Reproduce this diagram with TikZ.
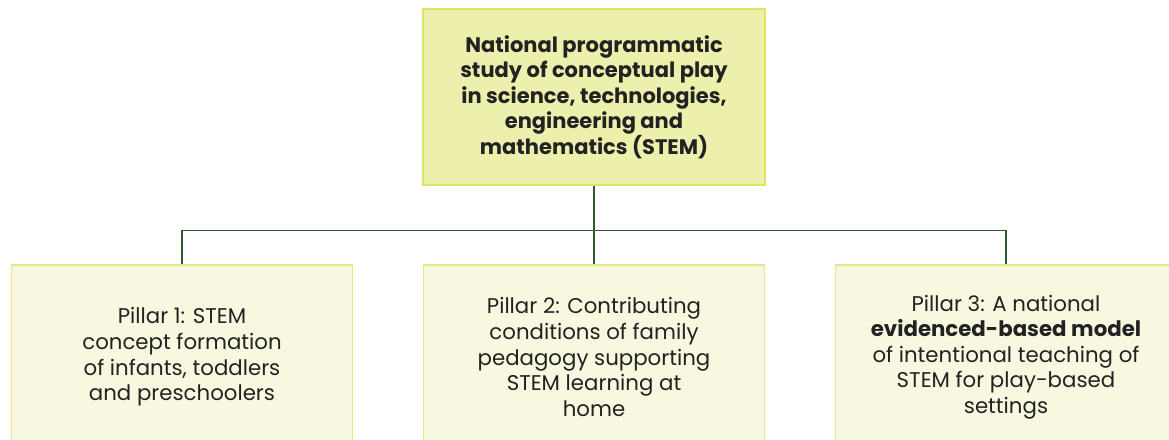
\documentclass[tikz,border=0pt]{standalone}
\usepackage{fontspec}
\setmainfont{Poppins}
\usetikzlibrary{positioning}

\definecolor{topfill}{HTML}{EDF0AD}
\definecolor{topline}{HTML}{DCE464}
\definecolor{pillfill}{HTML}{F8F8E0}
\definecolor{pillline}{HTML}{E2E882}
\definecolor{linkcol}{HTML}{2E5A2E}
\definecolor{txtcol}{HTML}{222222}

\tikzset{
  topbox/.style={draw=topline, fill=topfill, line width=1.5pt, minimum width=342pt,
    minimum height=176pt, align=center, text=txtcol,
    font=\fontsize{21}{25.6}\selectfont\bfseries},
  pillar/.style={draw=pillline, fill=pillfill, line width=1.5pt, minimum width=341pt,
    minimum height=184pt, align=center, text=txtcol,
    font=\fontsize{21.3}{25.6}\selectfont},
  link/.style={draw=linkcol, line width=1.3pt}
}

\begin{document}
\begin{tikzpicture}[x=1pt,y=-1pt]
  \useasboundingbox (0,0) rectangle (1169,439);
  \clip (0,0) rectangle (1169,439);

  \node[topbox] (study) at (594,97) {National programmatic\\study of conceptual play\\in science, technologies,\\engineering and\\mathematics (STEM)};

  \node[pillar] (p1) at (182,357) {Pillar 1: STEM\\concept formation\\of infants, toddlers\\and preschoolers};
  \node[pillar] (p2) at (594,357) {Pillar 2: Contributing\\conditions of family\\pedagogy supporting\\STEM learning at\\home};
  \node[pillar] (p3) at (1006,357) {Pillar 3: A national\\\textbf{evidenced-based model}\\of intentional teaching of\\STEM for play-based\\settings};

  % tree connectors
  \draw[link] (study.south) -- ++(0,45) coordinate (split);
  \draw[link] (p1.north) |- (split) -| (p3.north);
  \draw[link] (split) -- (p2.north);
\end{tikzpicture}
\end{document}
